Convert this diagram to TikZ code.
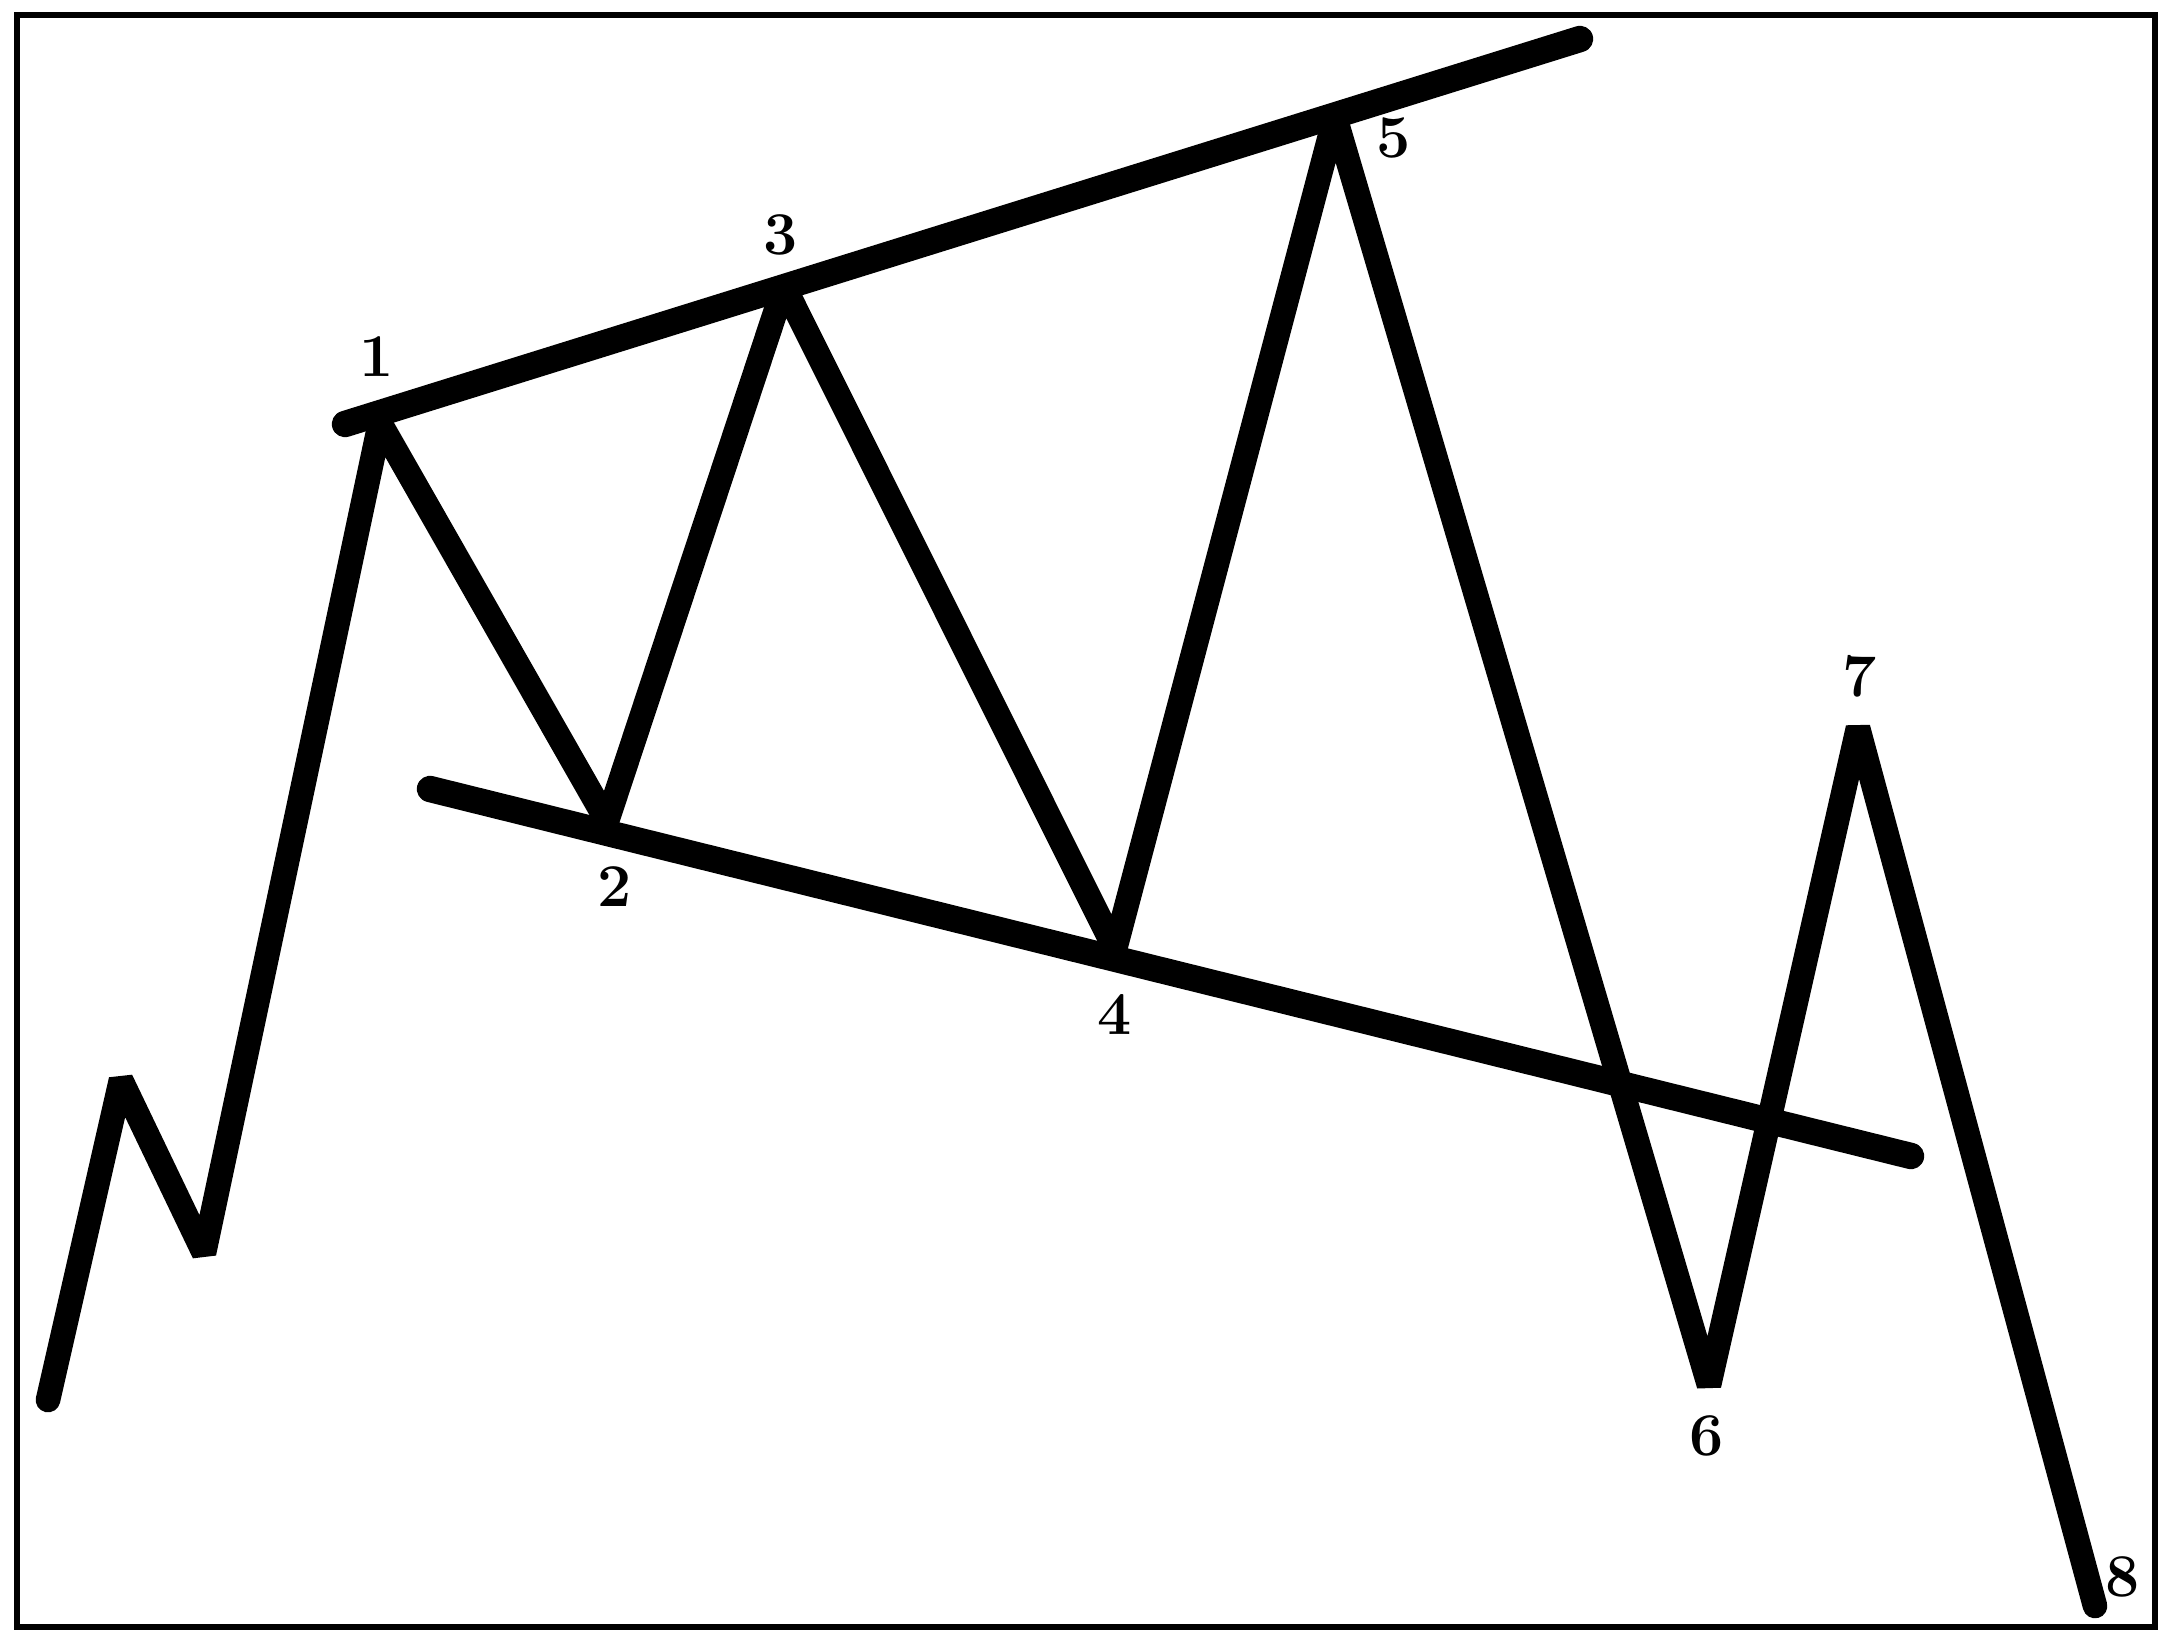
\documentclass[tikz,border=0pt]{standalone}
\usepackage{tikz}
\usetikzlibrary{positioning}

\begin{document}
\begin{tikzpicture}[x=0.01cm, y=-0.01cm,
    price/.style={line width=7pt, line join=bevel, line cap=round},
    trend/.style={line width=7.5pt, line cap=round},
    lbl/.style={font=\LARGE\bfseries, inner sep=0pt}]
        \useasboundingbox (0,0) rectangle (2163,1636);

        % Frame
        \draw[line width=1.8pt] (17,15) rectangle (2155,1627);

        % Turning points
        \coordinate (p0) at (48,1400);
        \coordinate (pa) at (121,1080);
        \coordinate (pb) at (204,1253);
        \coordinate (p1) at (380,423);
        \coordinate (p2) at (607,821);
        \coordinate (p3) at (784,286);
        \coordinate (p4) at (1115,949);
        \coordinate (p5) at (1335,117);
        \coordinate (p6) at (1709,1385);
        \coordinate (p7) at (1858,728);
        \coordinate (p8) at (2095,1606);

        % Trend line ends
        \coordinate (up0) at (345,424);
        \coordinate (up1) at (1580,39);
        \coordinate (lo0) at (430,789);
        \coordinate (lo1) at (1911,1156);

        % Trend lines
        \draw[trend] (up0) -- (up1);
        \draw[trend] (lo0) -- (lo1);

        % Price path
        \draw[price] (p0) -- (pa) -- (pb) -- (p1) -- (p2) -- (p3) -- (p4) -- (p5) -- (p6) -- (p7) -- (p8);

        % Point labels
        \node[lbl] (l1) at (377,357) {1};
        \node[lbl] (l2) at (615,887) {2};
        \node[lbl] (l3) at (781,235) {3};
        \node[lbl] (l4) at (1115,1014) {4};
        \node[lbl] (l5) at (1394,138) {5};
        \node[lbl] (l6) at (1707,1436) {6};
        \node[lbl] (l7) at (1860,676) {7};
        \node[lbl] (l8) at (2123,1577) {8};
    \end{tikzpicture}
\end{document}
